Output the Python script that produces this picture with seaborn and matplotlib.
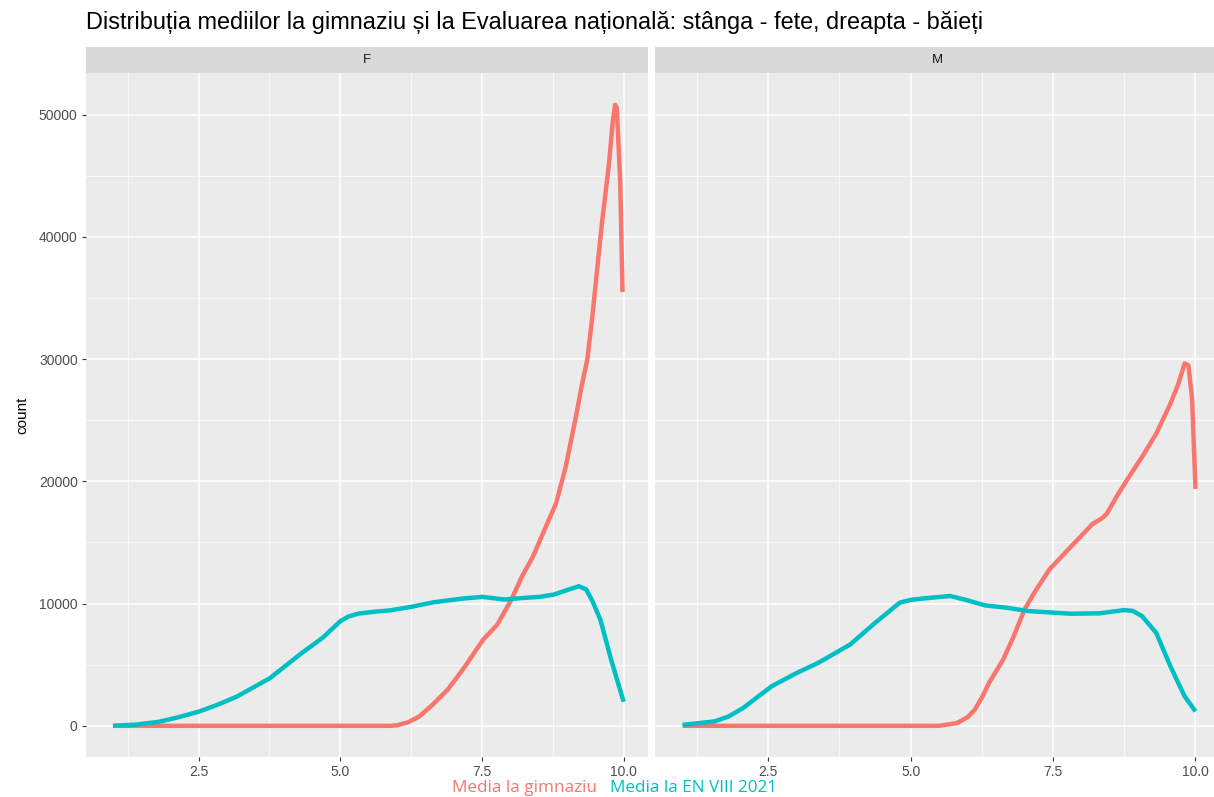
import numpy as np
import pandas as pd
import matplotlib
matplotlib.use('Agg')
import matplotlib.pyplot as plt
import seaborn as sns

# values
red_f_x = [1.0, 2.0, 3.0, 4.0, 5.0, 5.6, 5.89, 6.01, 6.2, 6.39, 6.6, 6.89, 7.05, 7.2, 7.52, 7.77, 8.02, 8.21, 8.40, 8.62, 8.81, 8.98, 9.16, 9.26, 9.36, 9.45, 9.51, 9.62, 9.74, 9.81, 9.85, 9.88, 9.94, 9.98]
red_f_y = [0, 0, 0, 0, 0, 0, 0, 50, 300, 740, 1600, 2930, 3900, 4850, 7040, 8270, 10330, 12250, 13840, 16200, 18220, 21230, 25340, 27800, 30000, 33560, 36300, 41230, 45890, 49500, 50800, 50550, 44520, 35480]

cyan_f_x = [0.99, 1.4, 1.80, 2.1, 2.5, 2.85, 3.18, 3.76, 4.32, 4.69, 5.0, 5.15, 5.32, 5.6, 5.89, 6.25, 6.64, 7.14, 7.51, 7.9, 8.2, 8.52, 8.77, 9.0, 9.21, 9.34, 9.45, 9.59, 9.78, 10.0]
cyan_f_y = [0, 100, 330, 650, 1150, 1750, 2400, 3900, 5950, 7200, 8550, 8950, 9180, 9330, 9450, 9730, 10100, 10400, 10550, 10330, 10450, 10550, 10740, 11100, 11420, 11150, 10200, 8680, 5400, 1970]

red_m_x = [1.0, 2.0, 3.0, 4.0, 5.0, 5.5, 5.81, 6.0, 6.125, 6.25, 6.375, 6.625, 6.81, 7.0, 7.19, 7.44, 7.69, 7.94, 8.19, 8.35, 8.44, 8.625, 8.81, 9.06, 9.31, 9.56, 9.69, 9.81, 9.875, 9.94, 10.0]
red_m_y = [0, 0, 0, 0, 0, 0, 220, 700, 1310, 2300, 3500, 5420, 7330, 9520, 11030, 12810, 14040, 15270, 16500, 16950, 17320, 18830, 20200, 21980, 23890, 26360, 27860, 29640, 29500, 26770, 19380]

cyan_m_x = [1.0, 1.56, 1.8, 2.06, 2.56, 3.0, 3.375, 3.94, 4.38, 4.81, 5.0, 5.25, 5.69, 5.94, 6.31, 6.69, 7.06, 7.81, 8.31, 8.75, 8.9, 9.06, 9.31, 9.56, 9.81, 10.0]
cyan_m_y = [80, 360, 750, 1450, 3230, 4320, 5140, 6650, 8430, 10070, 10300, 10430, 10620, 10340, 9850, 9660, 9390, 9170, 9200, 9470, 9400, 8980, 7610, 4870, 2410, 1180]

series_names = ['Media la gimnaziu', 'Media la EN VIII 2021']
panel_names = ['F', 'M']
colors = ['#F8766D', '#00BFC4']

frames = []
for panel, rx, ry, cx, cy in [('F', red_f_x, red_f_y, cyan_f_x, cyan_f_y),
                              ('M', red_m_x, red_m_y, cyan_m_x, cyan_m_y)]:
    frames.append(pd.DataFrame({'x': rx, 'count': ry, 'serie': series_names[0], 'sex': panel}))
    frames.append(pd.DataFrame({'x': cx, 'count': cy, 'serie': series_names[1], 'sex': panel}))
df = pd.concat(frames, ignore_index=True)

plt.rcParams['font.family'] = ['Liberation Sans', 'DejaVu Sans']

W, H = 1214, 797
fig = plt.figure(figsize=(W / 100, H / 100), dpi=100)

# panel pixel edges (right panel runs slightly past the image edge, as in the reference crop)
panels = [(86, 648), (655, 1220)]
top, bottom = 73, 757
for (l, r), name in zip(panels, panel_names):
    ax = fig.add_axes([l / W, 1 - bottom / H, (r - l) / W, (bottom - top) / H])
    ax.set_facecolor('#EBEBEB')
    sub = df[df['sex'] == name]
    sns.lineplot(data=sub, x='x', y='count', hue='serie', palette=colors,
                 hue_order=series_names, lw=3.2, ax=ax, legend=False, sort=False,
                 solid_joinstyle='round', solid_capstyle='butt')
    ax.set_xlim(0.515, 10.43)
    ax.set_ylim(-2550, 53400)
    ax.set_xticks([2.5, 5.0, 7.5, 10.0])
    ax.set_xticklabels(['2.5', '5.0', '7.5', '10.0'])
    ax.set_xticks([1.25, 3.75, 6.25, 8.75], minor=True)
    ax.set_yticks(range(0, 50001, 10000))
    ax.set_yticks(range(5000, 50001, 10000), minor=True)
    ax.grid(True, which='major', color='white', lw=1.1)
    ax.grid(True, which='minor', color='white', lw=0.5)
    ax.set_axisbelow(True)
    for s in ax.spines.values():
        s.set_visible(False)
    ax.tick_params(which='major', colors='#333333', labelcolor='#4D4D4D', labelsize=10,
                   length=3, pad=3)
    ax.tick_params(which='minor', length=0)
    ax.set_xlabel('')
    if name == 'F':
        ax.set_ylabel('count', fontsize=11, color='black', labelpad=7)
    else:
        ax.set_ylabel('')
        ax.tick_params(axis='y', which='both', left=False, labelleft=False)

    # facet strip
    sax = fig.add_axes([l / W, 1 - top / H, (r - l) / W, 26 / H])
    sax.set_facecolor('#D9D9D9')
    sax.set_xticks([])
    sax.set_yticks([])
    for s in sax.spines.values():
        s.set_visible(False)
    sax.text(0.5, 0.5, name, ha='center', va='center', fontsize=9.5, color='#1A1A1A',
             transform=sax.transAxes)

fig.text(86 / W, 1 - 23 / H, 'Distribuția mediilor la gimnaziu și la Evaluarea națională: stânga - fete, dreapta - băieți',
         ha='left', va='center', fontsize=16.9, color='black')

fig.text(597 / W, 1 - 788 / H, series_names[0], ha='right', va='center',
         fontsize=12.3, color=colors[0], family=['Open Sans', 'DejaVu Sans'])
fig.text(610 / W, 1 - 788 / H, series_names[1], ha='left', va='center',
         fontsize=12.3, color=colors[1], family=['Open Sans', 'DejaVu Sans'])

fig.savefig('out.png', dpi=100, facecolor='white')
